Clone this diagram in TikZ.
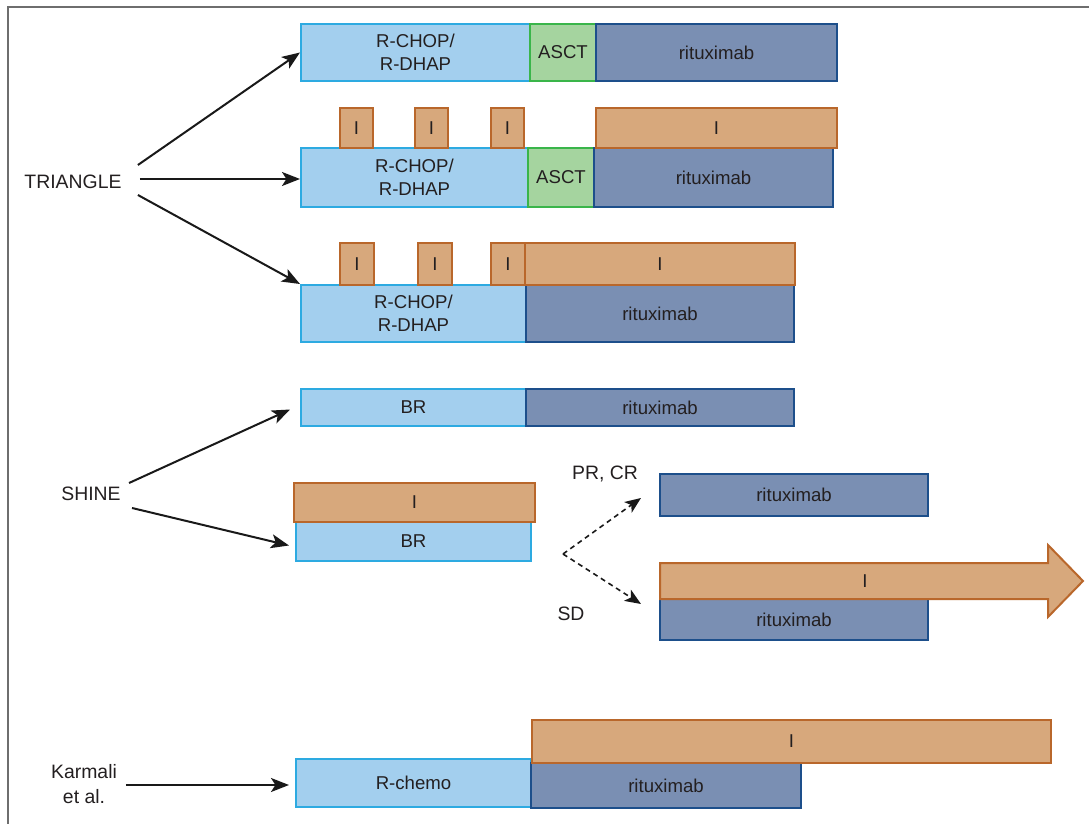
\documentclass[tikz,border=0pt]{standalone}
\usepackage{fontspec}
\setmainfont{Liberation Sans}
\usetikzlibrary{arrows.meta, fit, calc}

\definecolor{chemoFill}{HTML}{A3CFEE}
\definecolor{chemoLine}{HTML}{2DAAE1}
\definecolor{asctFill}{HTML}{A5D49F}
\definecolor{asctLine}{HTML}{3AB54A}
\definecolor{rituxFill}{HTML}{7A8FB3}
\definecolor{rituxLine}{HTML}{1D4F8B}
\definecolor{ibruFill}{HTML}{D7A87C}
\definecolor{ibruLine}{HTML}{B9672B}
\definecolor{frameGray}{HTML}{6E6E6E}
\definecolor{txt}{HTML}{231F20}

\tikzset{
  blk/.style={inner sep=0pt, line width=1pt},
  blktext/.style={inner sep=0pt, align=center, text=txt,
    font=\fontsize{9.3}{11.5}\selectfont},
  chemo/.style={blk, draw=chemoLine, fill=chemoFill},
  asct/.style={blk, draw=asctLine, fill=asctFill},
  ritux/.style={blk, draw=rituxLine, fill=rituxFill},
  ibru/.style={blk, draw=ibruLine, fill=ibruFill},
  trial/.style={inner sep=0pt, text=txt, align=center,
    font=\fontsize{9.7}{12.5}\selectfont},
  arr/.style={-{Stealth[length=9pt, width=7pt, inset=2.2pt]}, line width=1pt, black!90},
  darr/.style={-{Stealth[length=8pt, width=6.5pt, inset=2pt]}, line width=0.8pt,
    black!90, dash pattern=on 2.5pt off 2pt},
}
% box from corner (x1,y1) to corner (x2,y2), text in the middle
\newcommand{\tbox}[7]{%
  \node[#1, fit={(#3,#4) (#5,#6)}] (#2) {};
  \node[blktext] (#2-t) at (#2.center) {#7};}

\begin{document}
\begin{tikzpicture}[x=0.5pt, y=-0.5pt]
  \useasboundingbox (0,0) rectangle (1089,824);
  \draw[frameGray, line width=1pt] (8,824) -- (8,7) -- (1089,7);

  % 1. TRIANGLE, arm A
  \tbox{chemo}{ta1}{301}{24}{530}{81}{R-CHOP/\\R-DHAP}
  \tbox{asct}{ta2}{530}{24}{596}{81}{ASCT}
  \tbox{ritux}{ta3}{596}{24}{837}{81}{rituximab}

  % 2. TRIANGLE, arm A+I
  \tbox{chemo}{tb1}{301}{148}{528}{207}{R-CHOP/\\R-DHAP}
  \tbox{asct}{tb2}{528}{148}{594}{207}{ASCT}
  \tbox{ritux}{tb3}{594}{148}{833}{207}{rituximab}
  \foreach \xa/\nm in {340/1, 415/2, 491/3}
    {\tbox{ibru}{tbi\nm}{\xa}{108}{\xa+33}{148}{I}}
  \tbox{ibru}{tbi4}{596}{108}{837}{148}{I}

  % 3. TRIANGLE, arm I
  \tbox{chemo}{tc1}{301}{285}{526}{342}{R-CHOP/\\R-DHAP}
  \tbox{ritux}{tc2}{526}{285}{794}{342}{rituximab}
  \foreach \xa/\nm in {340/1, 418/2, 491/3}
    {\tbox{ibru}{tci\nm}{\xa}{243}{\xa+34}{285}{I}}
  \tbox{ibru}{tci4}{525}{243}{795}{285}{I}

  % 4. SHINE
  \tbox{chemo}{sa1}{301}{389}{526}{426}{BR}
  \tbox{ritux}{sa2}{526}{389}{794}{426}{rituximab}
  \tbox{chemo}{sb1}{296}{522}{531}{561}{BR}
  \tbox{ibru}{sb2}{294}{483}{535}{522}{I}
  \tbox{ritux}{sc1}{660}{474}{928}{516}{rituximab}
  \tbox{ritux}{sd1}{660}{599}{928}{640}{rituximab}
  \draw[ibru] (660,563) -- (1048,563) -- (1048,545) -- (1083,581)
    -- (1048,617) -- (1048,599) -- (660,599) -- cycle;
  \node[blktext] (sdI) at (865,581) {I};

  % 5. Karmali et al.
  \tbox{chemo}{ka1}{296}{759}{531}{807}{R-chemo}
  \tbox{ritux}{ka2}{531}{763}{801}{808}{rituximab}
  \tbox{ibru}{ka3}{532}{720}{1051}{763}{I}

  % trial names
  \node[trial] (tri) at (73,182) {TRIANGLE};
  \node[trial] (shine) at (91,494) {SHINE};
  \node[trial] (karm) at (84,784) {Karmali\\et al.};
  \node[trial] (pr) at (605,474) {PR, CR};
  \node[trial] (sd) at (571,614) {SD};

  \draw[arr] ([shift={(16,-17)}]tri.east) -- (ta1.west);
  \draw[arr] ([shift={(18,-3)}]tri.east) -- ([shift={(0,1.5)}]tb1.west);
  \draw[arr] ([shift={(16,13)}]tri.east) -- (tc1.north west);
  \draw[arr] ([shift={(8,-11)}]shine.east) -- ([shift={(-10,2)}]sa1.west);
  \draw[arr] ([shift={(11,14)}]shine.east) -- ([shift={(-6,4)}]sb1.west);
  \draw[arr] ([shift={(8.5,1)}]karm.east) -- ([shift={(-6,2)}]ka1.west);

  % response split
  \coordinate (split) at (563,554);
  \coordinate (toPR) at (641,498);
  \coordinate (toSD) at (641,604);
  \draw[darr] (split) -- (toPR);
  \draw[darr] (split) -- (toSD);
\end{tikzpicture}
\end{document}
